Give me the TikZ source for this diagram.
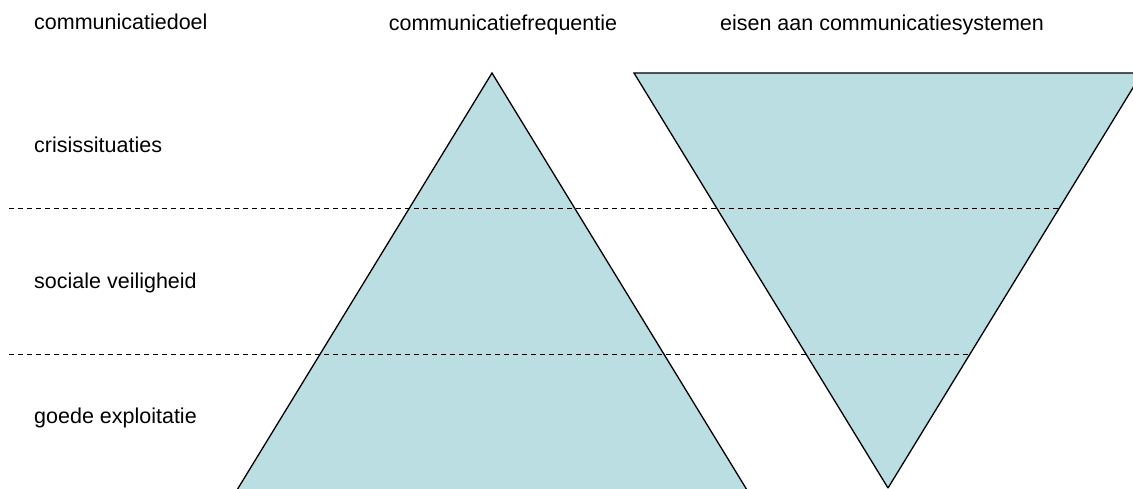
\documentclass[tikz,border=0pt]{standalone}
\usepackage{fontspec}
\setmainfont{Liberation Sans}
\definecolor{tri}{RGB}{187,222,227}
\begin{document}
\begin{tikzpicture}[x=1pt,y=-1pt,
  lbl/.style={font=\fontsize{21.5}{24}\selectfont, inner sep=0pt, anchor=base west},
  hdr/.style={font=\fontsize{21.5}{24}\selectfont, inner sep=0pt, anchor=base},
  edge/.style={line width=1.3pt, black, line join=miter},
  sep/.style={line width=1pt, black, dash pattern=on 5pt off 4pt}]
\useasboundingbox (0,0) rectangle (1133,489);
\clip (0,0) rectangle (1133,489);
% up triangle
\coordinate (A) at (492,73);
\coordinate (BL) at (237,490);
\coordinate (BR) at (747,490);
\fill[tri] (A) -- (BL) -- (BR) -- cycle;
\draw[edge] (BL) -- (A) -- (BR);
% down triangle
\coordinate (TL) at (634,73);
\coordinate (TR) at (1142,73);
\coordinate (B) at (888,488);
\fill[tri] (TL) -- (TR) -- (B) -- cycle;
\draw[edge] (B) -- (TL) -- (TR) -- (B);
% dashed separators
\coordinate (d1a) at (9,209);
\coordinate (d1b) at (1058,209);
\coordinate (d2a) at (9,354);
\coordinate (d2b) at (969,354);
\draw[sep] (d1a) -- (d1b);
\draw[sep] (d2a) -- (d2b);
% labels
\node[lbl] (h1) at (34,29.5) {communicatiedoel};
\node[hdr] (h2) at (503,31) {communicatiefrequentie};
\node[hdr] (h3) at (882,31) {eisen aan communicatiesystemen};
\node[lbl] (l1) at (34,153) {crisissituaties};
\node[lbl] (l2) at (34,288) {sociale veiligheid};
\node[lbl] (l3) at (34,423) {goede exploitatie};
\end{tikzpicture}
\end{document}
